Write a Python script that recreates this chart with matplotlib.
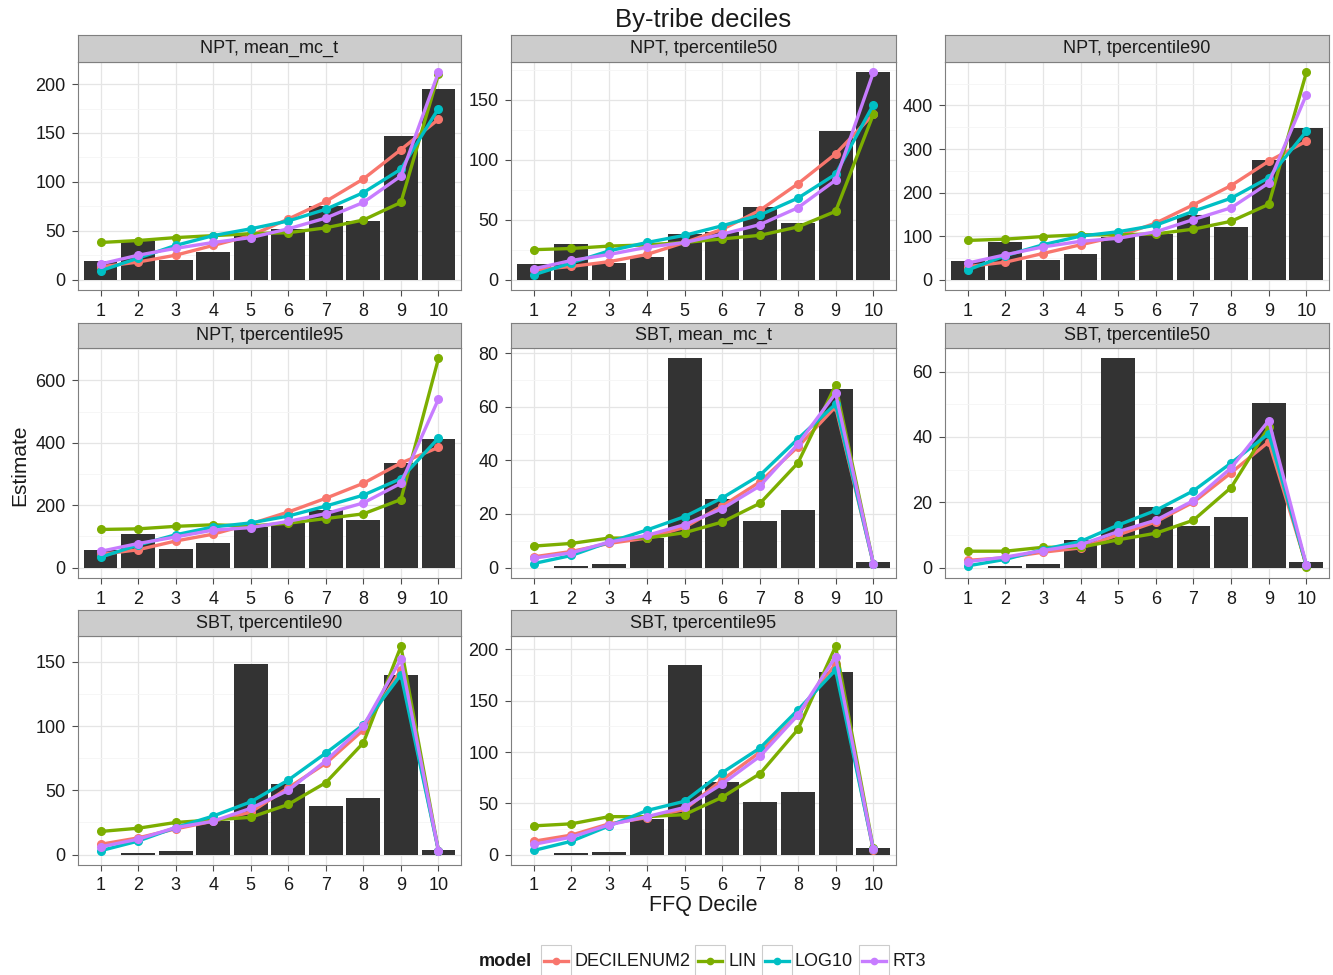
import matplotlib
matplotlib.use("Agg")
import matplotlib.pyplot as plt
from matplotlib.patches import Rectangle
from matplotlib.lines import Line2D
from matplotlib.ticker import MultipleLocator, AutoMinorLocator
import numpy as np

plt.rcParams['font.family'] = ['Liberation Sans', 'DejaVu Sans']

deciles = list(range(1, 11))
models = ["DECILENUM2", "LIN", "LOG10", "RT3"]
model_colors = ["#F8766D", "#7CAE00", "#00BFC4", "#C77CFF"]

panel_titles = ["NPT, mean_mc_t", "NPT, tpercentile50", "NPT, tpercentile90",
                "NPT, tpercentile95", "SBT, mean_mc_t", "SBT, tpercentile50",
                "SBT, tpercentile90", "SBT, tpercentile95"]
y_steps = [50, 50, 100, 200, 20, 20, 50, 50]

# observed values per decile (bars)
observed = [
    [19, 40, 20, 28, 47, 52, 75, 60, 147, 195],
    [13, 30, 14, 19, 38, 40, 61, 47, 124, 173],
    [42, 86, 45, 60, 99, 105, 148, 121, 274, 348],
    [55, 108, 58, 79, 129, 143, 185, 153, 335, 413],
    [0, 0.5, 1.5, 11, 78, 25.5, 17.5, 21.5, 66.5, 2],
    [0, 0.5, 1, 8.5, 64, 18.5, 12.8, 15.5, 50.5, 1.7],
    [0, 1.5, 2.5, 26, 148, 55, 38, 44, 140, 3.5],
    [0, 2, 3, 35, 185, 71, 51, 61, 178, 6],
]

# model estimates per panel
est_decilenum2 = [
    [13, 18, 25, 35, 45, 62, 80, 103, 133, 164],
    [8, 11, 15, 21, 31, 42, 58, 80, 105, 138],
    [30, 40, 60, 80, 100, 130, 172, 216, 272, 318],
    [42, 57, 85, 107, 140, 178, 222, 270, 335, 385],
    [4, 6, 9, 11, 15, 23, 32, 45, 60, 1.5],
    [2.2, 3, 4.7, 6, 10, 14, 20, 29, 38.5, 0.7],
    [8, 13, 20, 26, 33, 52, 71, 97, 144, 3],
    [13, 19, 30, 36, 44, 73, 100, 136, 186, 4],
]
est_lin = [
    [38, 40, 43, 45, 47, 48, 53, 61, 79, 210],
    [25, 26, 28, 29, 31, 34, 37, 44, 57, 138],
    [90, 93, 99, 103, 103, 105, 116, 134, 173, 476],
    [122, 124, 132, 137, 133, 142, 157, 172, 218, 670],
    [8, 9, 11, 11, 13, 17, 24, 39, 68, 1.5],
    [5, 5, 6.2, 6.2, 8.5, 10.5, 14.5, 24.5, 43, 0.2],
    [18, 20.5, 25, 27, 29, 39, 56, 87, 162, 3],
    [28, 30, 37, 37, 39, 56, 79, 122, 203, 6],
]
est_log10 = [
    [9, 22, 35, 45, 52, 60, 72, 89, 113, 175],
    [4, 14, 24, 31, 37, 45, 54, 68, 88, 146],
    [22, 55, 80, 100, 110, 125, 157, 187, 234, 341],
    [33, 72, 105, 130, 143, 165, 197, 232, 285, 415],
    [1.5, 4.5, 9.5, 14, 19, 26, 34.5, 48, 61, 1.5],
    [0.5, 2.5, 5.5, 8, 13, 17.5, 23.5, 32, 41, 0.7],
    [3, 10.5, 21, 30, 41, 58, 79, 101, 140, 3],
    [4, 13, 28, 43, 52, 80, 104, 141, 180, 5],
]
est_rt3 = [
    [16, 25, 32, 38, 43, 52, 63, 79, 106, 212],
    [9, 16, 21, 27, 31, 38, 46, 60, 83, 173],
    [38, 57, 75, 88, 95, 110, 138, 165, 222, 425],
    [52, 77, 98, 120, 128, 148, 173, 207, 270, 540],
    [3.5, 5.5, 9.5, 12, 16, 22, 30.5, 46, 65, 1.5],
    [1.8, 3.2, 5.2, 7, 11, 14.5, 20.5, 30.5, 45, 0.8],
    [6, 12, 21, 26, 36, 50, 73, 100, 152, 3],
    [10, 17, 29, 37, 46, 69, 96, 136, 193, 5],
]
estimates = [est_decilenum2, est_lin, est_log10, est_rt3]

W, H = 1333, 975
fig = plt.figure(figsize=(W / 100, H / 100), dpi=100)

def px_box(x0, y0, x1, y1):
    return [x0 / W, 1 - y1 / H, (x1 - x0) / W, (y1 - y0) / H]

col_x = [(78, 461), (511, 896), (945, 1329)]
row_y = [(35, 62, 290), (323, 348, 578), (610, 636, 865)]

border = "#7F7F7F"
for i, title in enumerate(panel_titles):
    r, c = divmod(i, 3)
    x0, x1 = col_x[c]
    st, sb, pb = row_y[r]
    ax = fig.add_axes(px_box(x0, sb, x1, pb))
    sax = fig.add_axes(px_box(x0, st, x1, sb))
    sax.set_facecolor("#CCCCCC")
    sax.set_xticks([]); sax.set_yticks([])
    for s in sax.spines.values():
        s.set_color(border); s.set_linewidth(0.8)
    sax.text(0.5, 0.5, title, ha="center", va="center", fontsize=13,
             color="#1A1A1A", transform=sax.transAxes)

    ax.bar(deciles, observed[i], width=0.9, color="#333333", zorder=2)
    for est, col in zip(estimates, model_colors):
        ax.plot(deciles, est[i], color=col, lw=2.4, marker="o", ms=5.5,
                zorder=3, solid_capstyle="round")

    vals = np.concatenate([observed[i]] + [np.array(e[i]) for e in estimates])
    top = vals.max()
    lo = min(0, vals.min())
    rng = top - lo
    ax.set_ylim(lo - 0.05 * rng, top + 0.05 * rng)
    ax.set_xlim(0.4, 10.6)
    ax.set_xticks(deciles)
    ax.yaxis.set_major_locator(MultipleLocator(y_steps[i]))
    ax.yaxis.set_minor_locator(AutoMinorLocator(2))
    ax.grid(True, which="major", color="#E5E5E5", lw=0.9, zorder=0)
    ax.grid(True, which="minor", axis="y", color="#F5F5F5", lw=0.6, zorder=0)
    ax.set_axisbelow(True)
    ax.tick_params(which="major", length=4, width=0.8, color="#4D4D4D",
                   labelsize=13, labelcolor="#1A1A1A", pad=5)
    ax.tick_params(which="minor", length=0)
    for s in ax.spines.values():
        s.set_color(border); s.set_linewidth(0.8)

fig.text(703 / W, 1 - 20 / H, "By-tribe deciles", ha="center", va="center",
         fontsize=18.5, color="#1A1A1A")
fig.text(20 / W, 1 - 465 / H, "Estimate", ha="center", va="center",
         rotation=90, fontsize=15, color="#1A1A1A")
fig.text(703 / W, 1 - 906 / H, "FFQ Decile", ha="center", va="center",
         fontsize=15.5, color="#1A1A1A")

# legend along the bottom
lax = fig.add_axes([0, 0, 1, 1], facecolor="none")
lax.set_xlim(0, W); lax.set_ylim(H, 0); lax.axis("off")
lax.text(532, 961, "model", ha="right", va="center", fontsize=13,
         fontweight="bold", color="#1A1A1A")
key_x = [541, 695, 762, 859]
for kx, name, col in zip(key_x, models, model_colors):
    lax.add_patch(Rectangle((kx, 945), 30, 32, facecolor="white",
                            edgecolor="#CCCCCC", lw=0.8))
    lax.add_line(Line2D([kx + 3, kx + 27], [961, 961], color=col, lw=2.4))
    lax.plot(kx + 15, 961, "o", color=col, ms=4.5)
    lax.text(kx + 33, 961, name, ha="left", va="center", fontsize=13,
             color="#1A1A1A")

fig.savefig("out.png", dpi=100)
